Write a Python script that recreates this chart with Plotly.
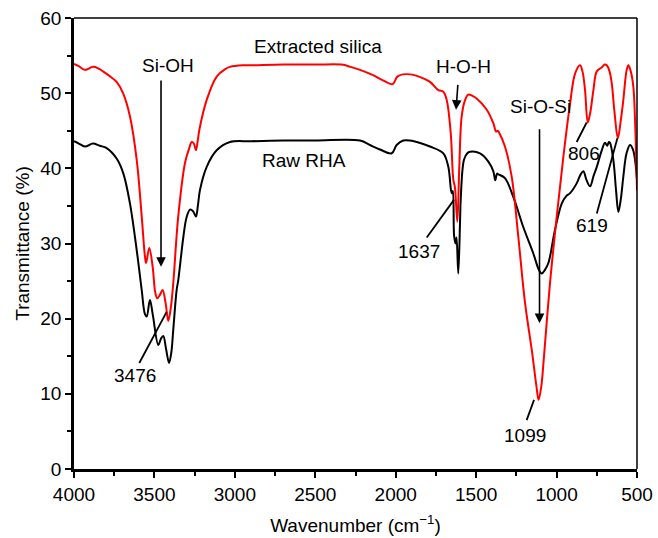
import plotly.graph_objects as go

# Extracted silica (red)
silica_wn = [4000, 3970, 3932, 3882, 3850, 3820, 3780, 3735, 3695, 3652, 3610, 3579, 3560, 3552, 3532, 3511,
             3495, 3482, 3465, 3449, 3430, 3414, 3398, 3383, 3352, 3310, 3285, 3268, 3255, 3242, 3230, 3221,
             3175, 3113, 3060, 3030, 2950, 2906, 2700, 2500, 2336, 2280, 2222, 2141, 2079, 2019, 1990, 1955,
             1910, 1869, 1787, 1735, 1704, 1683, 1658, 1642, 1632, 1617, 1605, 1590, 1570, 1549, 1520, 1497,
             1434, 1393, 1376, 1365, 1356, 1321, 1279, 1238, 1196, 1154, 1125, 1112, 1095, 1080, 1041, 999,
             958, 916, 885, 854, 838, 823, 806, 790, 771, 750, 720, 700, 688, 672, 657, 640, 619, 600,
             585, 565, 554, 540, 523, 510, 500]
silica_t = [53.9, 53.6, 53.1, 53.5, 53.3, 52.9, 52.3, 51.5, 50.0, 46.9, 41.1, 33.6, 28.5, 27.4, 29.4, 26.9,
            23.5, 22.7, 23.2, 23.8, 22.0, 19.7, 21.5, 24.7, 33.6, 40.7, 42.6, 43.5, 43.3, 42.4, 43.8, 45.1,
            49.1, 52.2, 53.2, 53.5, 53.7, 53.7, 53.8, 53.8, 53.8, 53.5, 53.1, 52.4, 51.7, 51.2, 52.2, 52.5,
            52.5, 52.3, 51.5, 50.4, 50.2, 49.1, 44.7, 38.5, 37.5, 32.9, 40.0, 46.9, 49.0, 49.8, 49.6, 49.3,
            47.8, 46.0, 44.9, 45.0, 44.7, 42.9, 38.9, 30.9, 22.1, 15.8, 11.0, 9.2, 11.0, 14.5, 24.7, 33.6,
            41.5, 48.6, 52.6, 53.7, 52.8, 50.4, 46.1, 47.5, 50.4, 52.9, 53.4, 53.8, 53.7, 53.0, 51.3, 47.5, 44.0, 46.5,
            49.1, 53.0, 53.7, 53.0, 50.9, 45.0, 37.1]

# Raw RHA (black)
raw_wn = [4000, 3970, 3932, 3882, 3840, 3797, 3735, 3693, 3652, 3610, 3579, 3559, 3548, 3528, 3510, 3476,
          3460, 3445, 3428, 3409, 3395, 3383, 3362, 3352, 3320, 3300, 3279, 3260, 3242, 3230, 3217, 3175,
          3113, 3030, 2900, 2700, 2500, 2222, 2160, 2098, 2025, 1994, 1953, 1910, 1869, 1787, 1704, 1673,
          1652, 1645, 1637, 1628, 1622, 1611, 1600, 1596, 1576, 1555, 1538, 1476, 1424, 1393, 1381, 1370,
          1362, 1321, 1269, 1207, 1145, 1110, 1092, 1075, 1051, 1010, 968, 940, 916, 875, 850, 833, 815,
          792, 770, 750, 719, 699, 685, 675, 668, 647, 630, 616, 600, 585, 565, 543, 525, 512, 500]
raw_t = [43.6, 43.3, 42.9, 43.3, 43.0, 42.7, 41.3, 39.3, 35.3, 29.1, 23.8, 20.6, 20.3, 22.5, 20.5, 16.5,
         17.3, 17.7, 16.0, 14.1, 15.5, 18.5, 23.8, 25.1, 30.9, 33.5, 34.5, 34.3, 33.6, 35.0, 37.1, 40.2,
         42.4, 43.5, 43.6, 43.7, 43.7, 43.7, 43.1, 42.5, 42.0, 43.1, 43.7, 43.7, 43.5, 42.9, 42.0, 40.2,
         36.7, 37.0, 31.0, 30.0, 30.8, 26.0, 33.0, 35.8, 41.1, 42.0, 42.2, 42.0, 40.9, 39.6, 38.4, 39.3,
         39.2, 38.7, 36.2, 32.2, 28.7, 26.5, 26.0, 26.4, 27.4, 31.8, 35.3, 36.3, 36.7, 38.0, 39.2, 39.6, 38.5,
         37.6, 39.0, 40.2, 42.4, 43.4, 43.0, 43.5, 43.4, 41.1, 37.0, 34.2, 36.0, 38.9, 42.0, 43.1, 42.5, 41.1, 38.5]

x_ticks = [4000, 3500, 3000, 2500, 2000, 1500, 1000, 500]
y_ticks = [0, 10, 20, 30, 40, 50, 60]

# Series labels (text, x, y)
series_labels = [("Extracted silica", 2483, 56.2), ("Raw RHA", 2570, 41.1)]
# Group arrows: (text, text_x, text_y, tail_x, tail_y, head_x, head_y)
group_arrows = [("Si-OH", 3416, 53.7, 3459, 51.9, 3459, 26.9),
                ("H-O-H", 1578, 53.5, 1613, 51.3, 1625, 47.8),
                ("Si-O-Si", 1097, 48.2, 1106, 45.4, 1106, 19.4)]
# Peak labels: (text, text_x, text_y, line_x0, line_y0, line_x1, line_y1)
peak_labels = [("3476", 3621, 12.4, 3594, 14.1, 3424, 20.9),
               ("1637", 1858, 28.9, 1807, 30.8, 1638, 35.8),
               ("1099", 1199, 4.5, 1186, 6.5, 1140, 9.2),
               ("806", 832, 42.0, 875, 43.5, 813, 46.1),
               ("619", 777, 32.4, 750, 34.0, 622, 44.0)]

FONT = "Liberation Sans, Arial, Helvetica, sans-serif"
FS = 19

fig = go.Figure()
fig.add_trace(go.Scatter(x=raw_wn, y=raw_t, mode="lines", line=dict(color="black", width=2),
                         line_shape="spline", showlegend=False))
fig.add_trace(go.Scatter(x=silica_wn, y=silica_t, mode="lines", line=dict(color="#ff0000", width=2),
                         line_shape="spline", showlegend=False))

annotations = []
for t, x, y in series_labels:
    annotations.append(dict(x=x, y=y, text=t, showarrow=False, xref="x", yref="y",
                            font=dict(size=FS, color="black", family=FONT)))
for t, tx, ty, x0, y0, x1, y1 in group_arrows:
    annotations.append(dict(x=tx, y=ty, text=t, showarrow=False, xref="x", yref="y",
                            font=dict(size=FS, color="black", family=FONT)))
    annotations.append(dict(x=x1, y=y1, ax=x0, ay=y0, xref="x", yref="y", axref="x", ayref="y",
                            text="", showarrow=True, arrowhead=2, arrowsize=1.2, arrowwidth=1.6,
                            arrowcolor="black"))
shapes = []
for t, tx, ty, x0, y0, x1, y1 in peak_labels:
    annotations.append(dict(x=tx, y=ty, text=t, showarrow=False, xref="x", yref="y",
                            font=dict(size=FS, color="black", family=FONT)))
    shapes.append(dict(type="line", xref="x", yref="y", x0=x0, y0=y0, x1=x1, y1=y1,
                       line=dict(color="black", width=1.8)))
# top and right frame lines
shapes.append(dict(type="line", xref="paper", yref="paper", x0=0, y0=1, x1=1, y1=1,
                   line=dict(color="black", width=1.5)))
shapes.append(dict(type="line", xref="paper", yref="paper", x0=1, y0=0, x1=1, y1=1,
                   line=dict(color="black", width=1.5)))

fig.update_layout(
    width=658, height=538,
    margin=dict(l=74, r=21, t=18, b=69),
    paper_bgcolor="white", plot_bgcolor="white",
    font=dict(family=FONT, size=FS, color="black"),
    annotations=annotations, shapes=shapes,
    xaxis=dict(range=[4000, 500], tickvals=x_ticks, ticks="outside", ticklen=6, tickwidth=2,
               tickcolor="black", showline=True, linewidth=2.5, linecolor="black", showgrid=False,
               zeroline=False, automargin=False,
               minor=dict(tickvals=[3750, 3250, 2750, 2250, 1750, 1250, 750],
                          ticks="outside", ticklen=4, tickwidth=2, tickcolor="black"),
               title=dict(text="Wavenumber (cm<sup>\u22121</sup>)", standoff=16,
                          font=dict(size=FS, family=FONT)),
               tickfont=dict(size=FS, family=FONT)),
    yaxis=dict(range=[0, 60], tickvals=y_ticks, ticks="outside", ticklen=6, tickwidth=2,
               tickcolor="black", showline=True, linewidth=2.5, linecolor="black", showgrid=False,
               zeroline=False, automargin=False,
               minor=dict(tickvals=[5, 15, 25, 35, 45, 55], ticks="outside",
                          ticklen=4, tickwidth=2, tickcolor="black"),
               title=dict(text="Transmittance (%)", standoff=6, font=dict(size=FS, family=FONT)),
               tickfont=dict(size=FS, family=FONT)),
)

fig.write_html("out.html", config={"displayModeBar": False},
               post_script="document.body.style.margin='0px';document.body.style.overflow='hidden';")
